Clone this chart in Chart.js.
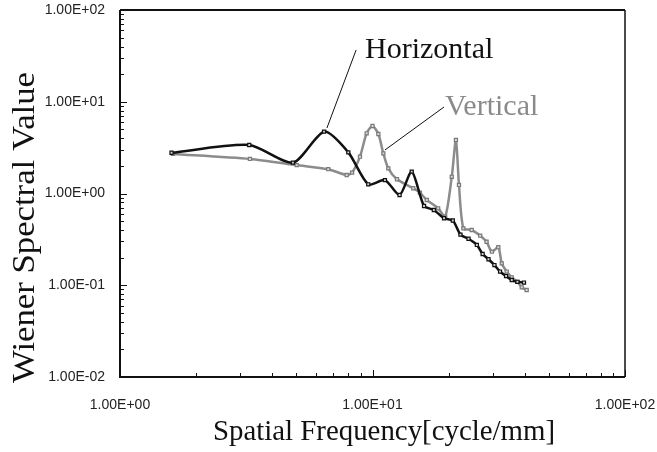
<!DOCTYPE html>
<html>
<head>
<meta charset="utf-8">
<script src="https://cdn.jsdelivr.net/npm/chart.js@4/dist/chart.umd.min.js"></script>
<style>
  html, body { margin: 0; padding: 0; background: #fff; }
  #wrap { width: 657px; height: 452px; }
</style>
</head>
<body>
<div id="wrap"><canvas id="c" width="657" height="452"></canvas></div>
<script>
// Wiener spectrum, horizontal direction
const hFreq  = [1.60, 3.25, 4.84, 6.43, 8.02, 9.62, 11.2, 12.8, 14.3, 16.0, 17.5, 19.2, 20.8, 22.3, 24.0, 25.9, 27.3, 28.8, 30.4, 32.0, 33.8, 35.6, 37.5, 39.8];
const hValue = [2.78, 3.38, 2.17, 4.72, 2.81, 1.26, 1.40, 0.963, 1.73, 0.731, 0.661, 0.537, 0.508, 0.356, 0.321, 0.275, 0.219, 0.192, 0.166, 0.141, 0.126, 0.114, 0.109, 0.107];

// Wiener spectrum, vertical direction
const vFreq  = [1.62, 3.27, 5.01, 6.68, 7.90, 8.30, 8.92, 9.48, 10.0, 10.55, 11.04, 11.55, 12.5, 14.5, 15.4, 16.4, 18.2, 19.4, 20.6, 21.4, 22.0, 22.9, 24.7, 26.7, 28.3, 29.7, 31.5, 32.5, 34.0, 35.6, 37.5, 39.0, 40.8];
const vValue = [2.70, 2.38, 2.04, 1.84, 1.59, 1.69, 2.52, 4.53, 5.44, 4.45, 2.74, 1.88, 1.43, 1.14, 1.02, 0.850, 0.690, 0.559, 1.52, 3.83, 1.24, 0.417, 0.400, 0.347, 0.298, 0.232, 0.260, 0.173, 0.141, 0.122, 0.109, 0.095, 0.0888];

// Axis decades carrying labels
const xTicks = [1, 10, 100];
const yTicks = [0.01, 0.1, 1, 10, 100];

const xTitle = 'Spatial Frequency[cycle/mm]';
const yTitle = 'Wiener Spectral Value';
const hName = 'Horizontal';
const vName = 'Vertical';

const toPoints = (xs, ys) => xs.map((x, i) => ({ x: x, y: ys[i] }));

function sci(v) {
  const e = Math.round(Math.log10(v));
  return '1.00E' + (e < 0 ? '-' : '+') + String(Math.abs(e)).padStart(2, '0');
}

const serif = '"Liberation Serif", "Times New Roman", serif';

// Keep the plot box fixed: labels may overhang into the page margin
function fixBox(s, key, size) {
  s[key] = size;
  s.paddingLeft = 0; s.paddingRight = 0; s.paddingTop = 0; s.paddingBottom = 0;
}

// Frame, inward log ticks, axis titles and series callouts
const decorations = {
  id: 'decorations',
  afterDraw(chart) {
    const ctx = chart.ctx;
    const a = chart.chartArea;
    const xs = chart.scales.x, ys = chart.scales.y;
    ctx.save();
    ctx.strokeStyle = '#111';
    ctx.lineCap = 'butt';

    // frame
    ctx.lineWidth = 2;
    ctx.beginPath();
    ctx.moveTo(a.left, a.top); ctx.lineTo(a.left, a.bottom); ctx.lineTo(a.right, a.bottom);
    ctx.moveTo(a.left, a.top); ctx.lineTo(a.right, a.top);
    ctx.stroke();
    ctx.lineWidth = 1.5;
    ctx.beginPath();
    ctx.moveTo(a.right, a.top); ctx.lineTo(a.right, a.bottom);
    ctx.stroke();

    // inward ticks
    ctx.lineWidth = 1;
    ctx.beginPath();
    for (let d = 1; d < 100; d *= 10) {
      for (let m = 2; m <= 10; m++) {
        const px = Math.round(xs.getPixelForValue(d * m)) + 0.5;
        const len = m === 10 ? 7 : 4;
        ctx.moveTo(px, a.bottom); ctx.lineTo(px, a.bottom - len);
      }
    }
    for (let d = 0.01; d < 100; d *= 10) {
      for (let m = 2; m <= 10; m++) {
        const py = Math.round(ys.getPixelForValue(d * m)) + 0.5;
        const len = m === 10 ? 7 : 4;
        ctx.moveTo(a.left, py); ctx.lineTo(a.left + len, py);
      }
    }
    ctx.stroke();

    // axis titles
    ctx.fillStyle = '#111';
    ctx.font = '30px ' + serif;
    ctx.textAlign = 'center';
    ctx.textBaseline = 'alphabetic';
    ctx.fillText(xTitle, 384, 440, 342);

    ctx.save();
    ctx.translate(34, 227.5);
    ctx.rotate(-Math.PI / 2);
    ctx.font = '31px ' + serif;
    const w = ctx.measureText(yTitle).width;
    ctx.scale(311 / w, 1);
    ctx.fillText(yTitle, 0, 0);
    ctx.restore();

    // callouts
    const P = (x, y) => [xs.getPixelForValue(x), ys.getPixelForValue(y)];
    ctx.lineWidth = 1;
    ctx.strokeStyle = '#111';
    let p1 = P(8.61, 36.6), p2 = P(6.60, 5.17);
    ctx.beginPath(); ctx.moveTo(p1[0], p1[1]); ctx.lineTo(p2[0], p2[1]); ctx.stroke();
    p1 = P(19.2, 8.77); p2 = P(11.2, 2.98);
    ctx.beginPath(); ctx.moveTo(p1[0], p1[1]); ctx.lineTo(p2[0], p2[1]); ctx.stroke();

    ctx.textAlign = 'left';
    ctx.font = '30px ' + serif;
    ctx.fillStyle = '#111';
    let t = P(9.34, 30.0);
    ctx.fillText(hName, t[0], t[1]);
    ctx.fillStyle = '#8a8a8a';
    t = P(19.37, 7.17);
    ctx.fillText(vName, t[0], t[1]);
    ctx.restore();
  }
};

new Chart(document.getElementById('c'), {
  type: 'line',
  data: {
    datasets: [
      {
        label: hName,
        data: toPoints(hFreq, hValue),
        borderColor: '#111',
        borderWidth: 2.5,
        tension: 0.25,
        pointStyle: 'rect',
        pointRadius: 2.2,
        pointBorderWidth: 1.2,
        pointBorderColor: '#111',
        pointBackgroundColor: '#cfcfcf'
      },
      {
        label: vName,
        data: toPoints(vFreq, vValue),
        borderColor: '#8c8c8c',
        borderWidth: 2.5,
        tension: 0.25,
        pointStyle: 'rect',
        pointRadius: 2.2,
        pointBorderWidth: 1.2,
        pointBorderColor: '#7a7a7a',
        pointBackgroundColor: '#d8d8d8'
      }
    ]
  },
  options: {
    responsive: false,
    animation: false,
    events: [],
    layout: { padding: { left: 0, right: 32, top: 10, bottom: 0 } },
    plugins: { legend: { display: false }, tooltip: { enabled: false } },
    scales: {
      x: {
        type: 'logarithmic',
        min: 1, max: 100,
        grid: { display: false, drawTicks: false },
        border: { display: false },
        afterBuildTicks: s => { s.ticks = xTicks.map(v => ({ value: v })); },
        afterFit: s => fixBox(s, 'height', 75),
        ticks: {
          callback: v => sci(v),
          autoSkip: false, maxRotation: 0, padding: 20,
          color: '#222',
          font: { family: '"Liberation Sans", Arial, sans-serif', size: 14 }
        }
      },
      y: {
        type: 'logarithmic',
        min: 0.01, max: 100,
        grid: { display: false, drawTicks: false },
        border: { display: false },
        afterBuildTicks: s => { s.ticks = yTicks.map(v => ({ value: v })); },
        afterFit: s => fixBox(s, 'width', 120),
        ticks: {
          callback: v => sci(v),
          autoSkip: false, padding: 15,
          color: '#222',
          font: { family: '"Liberation Sans", Arial, sans-serif', size: 14 }
        }
      }
    }
  },
  plugins: [decorations]
});
</script>
</body>
</html>
